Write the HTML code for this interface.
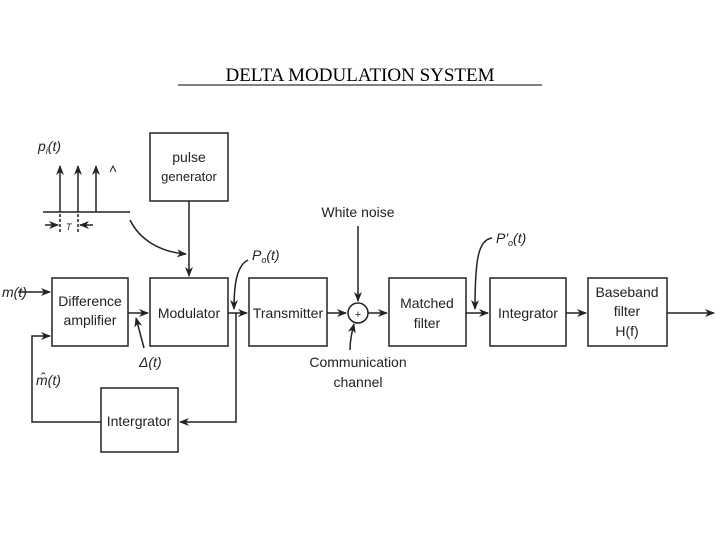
<!DOCTYPE html>
<html><head><style>
body{margin:0;background:#fff;width:720px;height:540px;overflow:hidden}
svg text{font-family:"Liberation Sans",sans-serif;fill:#222}
</style></head><body>
<svg width="720" height="540" viewBox="0 0 720 540">
<defs><marker id="a" markerWidth="10" markerHeight="8" refX="9" refY="4" orient="auto" markerUnits="userSpaceOnUse"><path d="M0,0 L10,4 L0,8 L3,4Z" fill="#222"/></marker></defs>
<text x="360" y="81" text-anchor="middle" style="font-family:'Liberation Serif',serif;font-size:19px;fill:#000">DELTA MODULATION SYSTEM</text>
<line x1="178" y1="85" x2="542" y2="85" stroke="#000" stroke-width="1"/>
<g stroke="#222" stroke-width="1.5" fill="none">
<rect x="150" y="133" width="78" height="68"/>
<rect x="52" y="278" width="76" height="68"/>
<rect x="150" y="278" width="78" height="68"/>
<rect x="249" y="278" width="78" height="68"/>
<rect x="101" y="388" width="77" height="64"/>
<rect x="389" y="278" width="77" height="68"/>
<rect x="490" y="278" width="76" height="68"/>
<rect x="588" y="278" width="79" height="68"/>
<circle cx="358" cy="313" r="10"/>
<line x1="43" y1="212" x2="130" y2="212"/>
<line x1="60" y1="212" x2="60" y2="166" marker-end="url(#a)"/>
<line x1="78" y1="212" x2="78" y2="166" marker-end="url(#a)"/>
<line x1="96" y1="212" x2="96" y2="166" marker-end="url(#a)"/>
<line x1="60" y1="214" x2="60" y2="234" stroke-dasharray="3,2"/>
<line x1="78" y1="214" x2="78" y2="234" stroke-dasharray="3,2"/>
<line x1="45" y1="225" x2="58" y2="225" marker-end="url(#a)"/>
<line x1="93" y1="225" x2="80" y2="225" marker-end="url(#a)"/>
<path d="M130,220 C140,240 160,252 186,254" marker-end="url(#a)"/>
<line x1="189" y1="201" x2="189" y2="276" marker-end="url(#a)"/>
<line x1="18" y1="292" x2="50" y2="292" marker-end="url(#a)"/>
<line x1="128" y1="313" x2="148" y2="313" marker-end="url(#a)"/>
<path d="M144,348 L136,318" marker-end="url(#a)"/>
<line x1="228" y1="313" x2="247" y2="313" marker-end="url(#a)"/>
<path d="M248,260 C238,265 234,280 234,309" marker-end="url(#a)"/>
<polyline points="236,313 236,422 180,422" marker-end="url(#a)"/>
<polyline points="101,422 32,422 32,336 50,336" marker-end="url(#a)"/>
<line x1="327" y1="313" x2="346" y2="313" marker-end="url(#a)"/>
<line x1="358" y1="226" x2="358" y2="301" marker-end="url(#a)"/>
<path d="M350,350 C350,340 352,332 354,324" marker-end="url(#a)"/>
<line x1="368" y1="313" x2="387" y2="313" marker-end="url(#a)"/>
<line x1="466" y1="313" x2="488" y2="313" marker-end="url(#a)"/>
<path d="M492,238 C478,240 475,260 475,309" marker-end="url(#a)"/>
<line x1="566" y1="313" x2="586" y2="313" marker-end="url(#a)"/>
<line x1="667" y1="313" x2="714" y2="313" marker-end="url(#a)"/>
</g>
<path d="M110,172 L113,166 L116,172" stroke="#222" fill="none"/>
<g font-size="14" style="font-weight:500">
<text x="38" y="151" font-style="italic">p<tspan font-size="9" dy="3">i</tspan><tspan dy="-3">(t)</tspan></text>
<text x="66" y="230" font-size="9" font-style="italic">T</text>
<text x="189" y="162" text-anchor="middle">pulse</text>
<text x="189" y="181" text-anchor="middle" font-size="13">generator</text>
<text x="2" y="297" font-style="italic">m(t)</text>
<text x="90" y="306" text-anchor="middle">Difference</text>
<text x="90" y="325" text-anchor="middle">amplifier</text>
<text x="189" y="318" text-anchor="middle">Modulator</text>
<text x="288" y="318" text-anchor="middle">Transmitter</text>
<text x="139" y="367" font-style="italic">Δ(t)</text>
<text x="36" y="385" font-style="italic">m̂(t)</text>
<text x="139" y="426" text-anchor="middle">Intergrator</text>
<text x="252" y="260" font-style="italic">P<tspan font-size="9" dy="3">o</tspan><tspan dy="-3">(t)</tspan></text>
<text x="358" y="217" text-anchor="middle">White noise</text>
<text x="358" y="318" text-anchor="middle" font-size="11">+</text>
<text x="358" y="367" text-anchor="middle">Communication</text>
<text x="358" y="387" text-anchor="middle">channel</text>
<text x="427" y="308" text-anchor="middle">Matched</text>
<text x="427" y="328" text-anchor="middle">filter</text>
<text x="496" y="243" font-style="italic">P'<tspan font-size="9" dy="3">o</tspan><tspan dy="-3">(t)</tspan></text>
<text x="528" y="318" text-anchor="middle">Integrator</text>
<text x="627" y="297" text-anchor="middle">Baseband</text>
<text x="627" y="316" text-anchor="middle">filter</text>
<text x="627" y="336" text-anchor="middle">H(f)</text>
</g>
</svg>
</body></html>
